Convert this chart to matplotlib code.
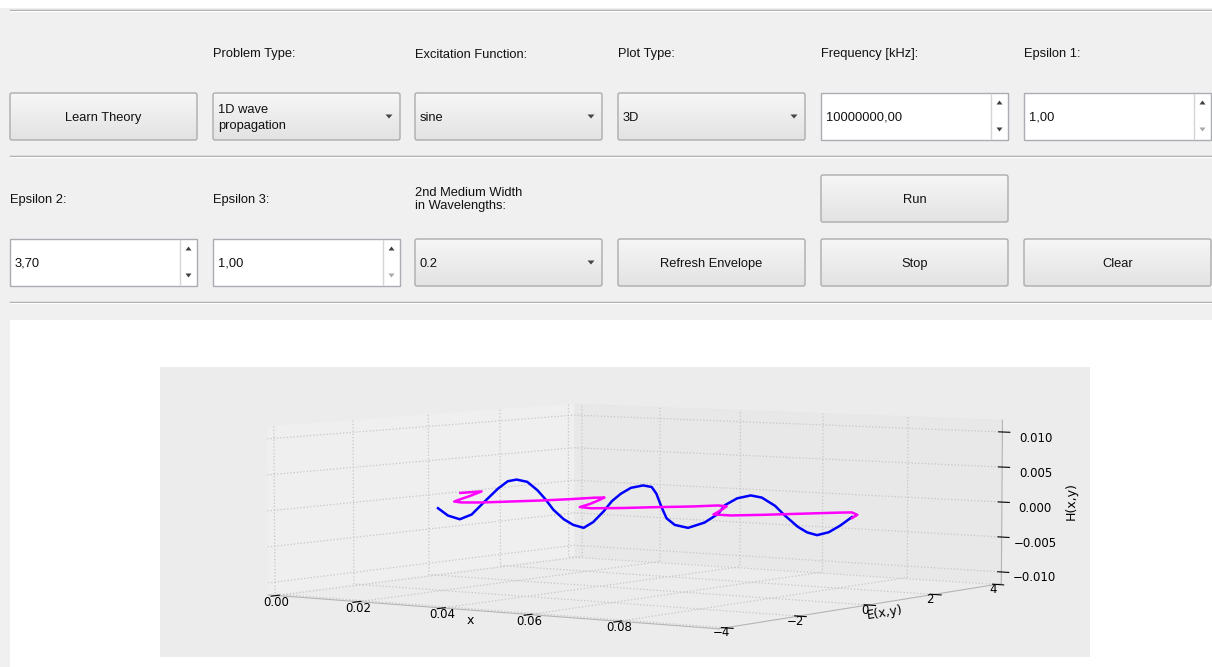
import numpy as np
import matplotlib
matplotlib.use("Agg")
import matplotlib.pyplot as plt
from matplotlib.patches import Rectangle, FancyBboxPatch, Polygon
from matplotlib.colors import LinearSegmentedColormap

x_h = [0.0003, 0.0028, 0.0058, 0.0088, 0.0121, 0.0154, 0.0178, 0.0200, 0.0226, 0.0251,
       0.0270, 0.0290, 0.0315, 0.0338, 0.0363, 0.0386, 0.0411, 0.0431, 0.0452, 0.0476,
       0.0505, 0.0525, 0.0536, 0.0548, 0.0560, 0.0579, 0.0610, 0.0648, 0.0679, 0.0695,
       0.0723, 0.0754, 0.0779, 0.0809, 0.0830, 0.0860, 0.0881, 0.0903, 0.0929, 0.0955, 0.0980]
h_vals = [-0.00187, -0.00286, -0.00330, -0.00250, -0.00048, 0.00147, 0.00259, 0.00290, 0.00265, 0.00152,
          0.00032, -0.00116, -0.00242, -0.00315, -0.00348, -0.00258, -0.00098, 0.00055, 0.00165, 0.00256,
          0.00299, 0.00283, 0.00193, 0.00010, -0.00146, -0.00231, -0.00262, -0.00175, -0.00045, 0.00083,
          0.00187, 0.00237, 0.00215, 0.00111, -0.00009, -0.00159, -0.00229, -0.00259, -0.00210, -0.00107, 0.00015]

x_e = [0.0000, 0.0010, 0.0063, 0.0100, 0.0127, 0.0153, 0.0185, 0.0218, 0.0251, 0.0278,
       0.0295, 0.0309, 0.0338, 0.0380, 0.0410, 0.0445, 0.0490, 0.0527, 0.0580, 0.0607,
       0.0632, 0.0680, 0.0721, 0.0761, 0.0800, 0.0846, 0.0892, 0.0909, 0.0948, 0.0980]
e_vals = [0.65, 1.13, 0.24, -0.43, -0.90, -0.99, -0.81, -0.36, 0.09, 0.61,
          1.09, 1.22, 0.73, -0.01, -0.65, -0.75, -0.43, -0.02, 0.49, 0.90,
          0.84, 0.06, -0.65, -0.65, -0.28, 0.26, 0.80, 0.95, 0.59, 0.00]

x_ticks = [0.0, 0.02, 0.04, 0.06, 0.08]
e_ticks = [-4, -2, 0, 2, 4]
h_ticks = [-0.010, -0.005, 0.0, 0.005, 0.010]
x_range = (0.0, 0.0995)
e_range = (-4.0, 4.0)
h_range = (-0.0112, 0.0112)

top_labels = ["Problem Type:", "Excitation Function:", "Plot Type:", "Frequency [kHz]:", "Epsilon 1:"]
row2_labels = ["Epsilon 2:", "Epsilon 3:", "2nd Medium Width\nin Wavelengths:"]

W, H = 1212, 667
fig = plt.figure(figsize=(W / 100, H / 100), dpi=100)
fig.patch.set_facecolor("#f0f0f0")

gui = fig.add_axes([0, 0, 1, 1])
gui.set_xlim(0, W)
gui.set_ylim(H, 0)
gui.axis("off")

FONT = "Liberation Sans"
FS = 9.3
TXT = "#111111"
grad = LinearSegmentedColormap.from_list("btn", ["#f6f6f6", "#e3e3e3"])
cols = [10, 213, 415, 618, 821, 1024]
cw = 187


def raised(x0, y0, x1, y1):
    p = FancyBboxPatch((x0, y0), x1 - x0, y1 - y0, boxstyle="round,pad=0,rounding_size=2",
                       facecolor="none", edgecolor="#acacac", lw=1, zorder=3)
    gui.add_patch(p)
    im = gui.imshow(np.linspace(0, 1, 40).reshape(-1, 1), cmap=grad, aspect="auto",
                    extent=[x0, x1, y1, y0], origin="upper", zorder=2)
    im.set_clip_path(p)


def button(x0, y0, y1, text):
    raised(x0, y0, x0 + cw, y1)
    gui.text(x0 + cw / 2, (y0 + y1) / 2 + 1.5, text, ha="center", va="center",
             fontsize=FS, family=FONT, color=TXT, zorder=4)


def combo(x0, y0, y1, text):
    raised(x0, y0, x0 + cw, y1)
    gui.text(x0 + 5, (y0 + y1) / 2 + 1.5, text, ha="left", va="center",
             fontsize=FS, family=FONT, color=TXT, zorder=4, linespacing=1.4)
    ax_ = x0 + cw - 11
    ym = (y0 + y1) / 2
    gui.add_patch(Polygon([[ax_ - 3.5, ym - 2], [ax_ + 3.5, ym - 2], [ax_, ym + 2]],
                          closed=True, facecolor="#444444", edgecolor="none", zorder=4))


def spin(x0, y0, y1, text, down_grey=False):
    gui.add_patch(Rectangle((x0, y0), cw, y1 - y0, facecolor="white",
                            edgecolor="#abadb3", lw=1, zorder=2))
    gui.plot([x0 + cw - 17, x0 + cw - 17], [y0 + 1, y1 - 1], color="#d5d5d5", lw=1, zorder=3)
    gui.text(x0 + 5, (y0 + y1) / 2 + 1.5, text, ha="left", va="center",
             fontsize=FS, family=FONT, color=TXT, zorder=4)
    cx = x0 + cw - 8.5
    ym = (y0 + y1) / 2
    gui.add_patch(Polygon([[cx - 3, ym - 12], [cx + 3, ym - 12], [cx, ym - 16]],
                          closed=True, facecolor="#404040", edgecolor="none", zorder=4))
    dc = "#a8a8a8" if down_grey else "#404040"
    gui.add_patch(Polygon([[cx - 3, ym + 11], [cx + 3, ym + 11], [cx, ym + 15]],
                          closed=True, facecolor=dc, edgecolor="none", zorder=4))


# window strips and separators
gui.add_patch(Rectangle((0, 0), W, 8, facecolor="white", edgecolor="none", zorder=1))
for ys in (10, 156, 302):
    gui.plot([10, W], [ys, ys], color="#a0a0a0", lw=1, zorder=1)
    gui.plot([10, W], [ys + 1, ys + 1], color="white", lw=1, zorder=1)

for c, t in zip(cols[1:], top_labels):
    gui.text(c, 54.5, t, ha="left", va="center", fontsize=FS, family=FONT, color=TXT)

button(cols[0], 93, 140, "Learn Theory")
combo(cols[1], 93, 140, "1D wave\npropagation")
combo(cols[2], 93, 140, "sine")
combo(cols[3], 93, 140, "3D")
spin(cols[4], 93, 140, "10000000,00")
spin(cols[5], 93, 140, "1,00", down_grey=True)

gui.text(cols[0], 200.5, row2_labels[0], ha="left", va="center", fontsize=FS, family=FONT, color=TXT)
gui.text(cols[1], 200.5, row2_labels[1], ha="left", va="center", fontsize=FS, family=FONT, color=TXT)
gui.text(cols[2], 199.5, row2_labels[2], ha="left", va="center", fontsize=FS, family=FONT,
         color=TXT, linespacing=1.15)
button(cols[4], 175, 222, "Run")

spin(cols[0], 239, 286, "3,70")
spin(cols[1], 239, 286, "1,00", down_grey=True)
combo(cols[2], 239, 286, "0.2")
button(cols[3], 239, 286, "Refresh Envelope")
button(cols[4], 239, 286, "Stop")
button(cols[5], 239, 286, "Clear")

# plot panel
gui.add_patch(Rectangle((10, 320), W - 10, H - 320, facecolor="white", edgecolor="none", zorder=1))
gui.add_patch(Rectangle((160, 367), 930, 290, facecolor="#ececec", edgecolor="none", zorder=1))
gui.set_xlim(0, W)
gui.set_ylim(H, 0)

# 3D axes (square in pixels, as Axes3D requires)
L = 739
cx_px, cy_px = 640, 506.5
left = (cx_px - 0.5135 * L) / W
bottom = (H - cy_px - 0.5135 * L) / H
ax = fig.add_axes([left, bottom, L / W, L / H], projection="3d")
ax.patch.set_visible(False)

ax.plot(x_h, np.zeros(len(x_h)), h_vals, color="#0000ff", lw=1.8)
ax.plot(x_e, e_vals, np.zeros(len(x_e)), color="#ff00ff", lw=1.8)


def padded(r):
    d = (r[1] - r[0]) / 48
    return r[0] - d, r[1] + d


ax.set_xlim(*padded(x_range))
ax.set_ylim(*padded(e_range))
ax.set_zlim(*padded(h_range))
ax.set_xticks(x_ticks)
ax.set_yticks(e_ticks)
ax.set_zticks(h_ticks)
ax.set_box_aspect((1, 0.96, 0.31))
ax.view_init(elev=4.5, azim=-55)

for a in (ax.xaxis, ax.yaxis, ax.zaxis):
    a._axinfo["grid"].update(color="#c6c6c6", linestyle=":", linewidth=0.9)
    a.line.set_color("#b5b5b5")
ax.tick_params(labelsize=8.5)
ax.xaxis.set_tick_params(pad=-8)
ax.yaxis.set_tick_params(pad=-10)
ax.zaxis.set_tick_params(pad=5)
ax.set_xlabel("x", fontsize=9, labelpad=-9)
ax.set_ylabel("E(x,y)", fontsize=9, labelpad=-11)
ax.set_zlabel("H(x,y)", fontsize=9, labelpad=6)

fig.savefig("out.png", dpi=100, facecolor=fig.get_facecolor())
